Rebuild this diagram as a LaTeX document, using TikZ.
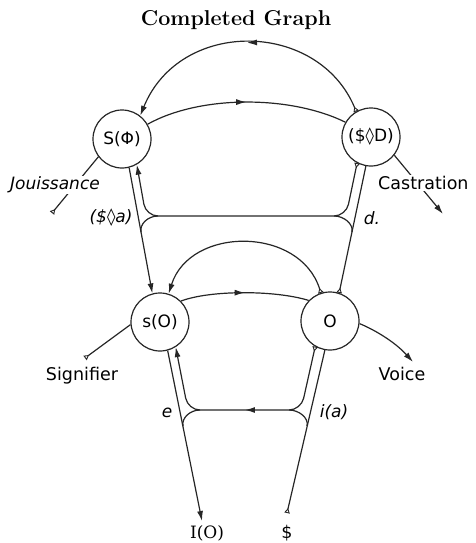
\documentclass[tikz,border=0pt]{standalone}
\usepackage{fontspec}
\newfontfamily\labelfont{DejaVu Sans}
\newfontfamily\slabfont{DejaVu Serif}
\usepackage{tikz}
\usetikzlibrary{arrows.meta}
\usetikzlibrary{decorations.markings}

\begin{document}
\begin{tikzpicture}[
  x=1pt, y=-1pt,
  place/.style={
    circle,
    draw=black!85,
    line width=1.2pt,
    minimum size=58pt,
    inner sep=0pt,
    font=\labelfont\fontsize{17}{20}\selectfont
  },
  lbl/.style={font=\labelfont\fontsize{17.5}{20}\selectfont, inner sep=1pt},
  ilbl/.style={font=\labelfont\itshape\fontsize{17}{20}\selectfont, inner sep=1pt},
  slab/.style={font=\slabfont\fontsize{17}{20}\selectfont, inner sep=1pt},
  vec/.style={line width=1.2pt, draw=black!85},
  tri/.tip={Triangle[open, reversed, length=5pt, width=5.5pt, line width=0.9pt]},
  arw/.tip={Latex[length=10pt, width=6pt]},
  midarr/.style={
    postaction={decorate},
    decoration={markings, mark=at position #1 with {\arrow{Latex[length=10pt, width=6pt]}}}
  },
  midarr/.default=0.5
]
\useasboundingbox (0,0) rectangle (475,543);

\node[font=\bfseries\fontsize{21.5}{24}\selectfont] (title) at (236,20) {Completed Graph};

% ---- the four places ----
\node[place] (Sphi) at (122,139) {S(Φ)};
\node[place] (SD)   at (371,137) {(\$◊D)};
\node[place] (sO)   at (160,322) {s(O)};
\node[place] (O)    at (330,321) {O};

% ---- free ends and corners ----
\coordinate (jstart)  at (52,213);
\coordinate (cend)    at (443,214);
\coordinate (sgstart) at (85,358);
\coordinate (vend)    at (413,362);
\coordinate (ioend)   at (202,521);
\coordinate (sstart)  at (287,513);
\coordinate (ulc) at (146,216);
\coordinate (urc) at (346,216);
\coordinate (llc) at (188,410);
\coordinate (lrc) at (301,410);

% ---- upper level ----
\draw[vec, tri-arw, midarr] (SD.120) .. controls (318,20) and (180,18) .. (Sphi.52);
\draw[vec, midarr] (Sphi.30) .. controls (200,95) and (290,95) .. (SD.150);
\draw[vec, tri-] (jstart) -- (Sphi.217);
\draw[vec, -arw] (SD.-38) -- (cend);

% ---- lower level ----
\draw[vec, tri-arw] (O.108) .. controls (300,226) and (190,226) .. (sO.73);
\draw[vec, midarr] (sO.45) .. controls (210,290) and (275,290) .. (O.136);
\draw[vec, tri-] (sgstart) -- (sO.185);
\draw[vec, -arw] (O.-5) .. controls (375,330) and (395,342) .. (vend);

% ---- verticals ----
\draw[vec, -arw] (Sphi.-76) -- (sO.105);
\draw[vec, tri-] (O.72) -- (SD.-100);
\draw[vec, -arw] (sO.-75) -- (ioend);
\draw[vec, tri-] (sstart) -- (O.-100);

% ---- crossing loops ----
\draw[vec, tri-arw, rounded corners=12pt] (SD.-118) -- (urc) -- (ulc) -- (Sphi.-60);
\draw[vec, tri-arw, rounded corners=12pt, midarr] (O.-120) -- (lrc) -- (llc) -- (sO.-58);
\draw[vec] (158,216) .. controls (148,216) and (139.5,224) .. (141,232);
\draw[vec] (334,216) .. controls (344,216) and (353.6,224) .. (352,232);
\draw[vec] (200,410) .. controls (190,410) and (181.4,418) .. (183,426);
\draw[vec] (289,410) .. controls (299,410) and (309,418) .. (307,426);

% ---- labels ----
\node[ilbl, fill=white] (jou) at (55,185) {Jouissance};
\node[lbl, fill=white, anchor=west] (cas) at (377,183) {Castration};
\node[lbl] (sig) at (82,376) {Signifier};
\node[lbl] (voice) at (402,374) {Voice};
\node[ilbl] (sda) at (111,218) {(\$\textup{◊}a)};
\node[ilbl] (dl) at (372,218) {d.};
\node[ilbl] (el) at (167,413) {e};
\node[ilbl] (ial) at (334,412) {i(a)};
\node[slab] (io) at (207,533) {I(O)};
\node[lbl] (bs) at (287,533) {\$};

\end{tikzpicture}
\end{document}
